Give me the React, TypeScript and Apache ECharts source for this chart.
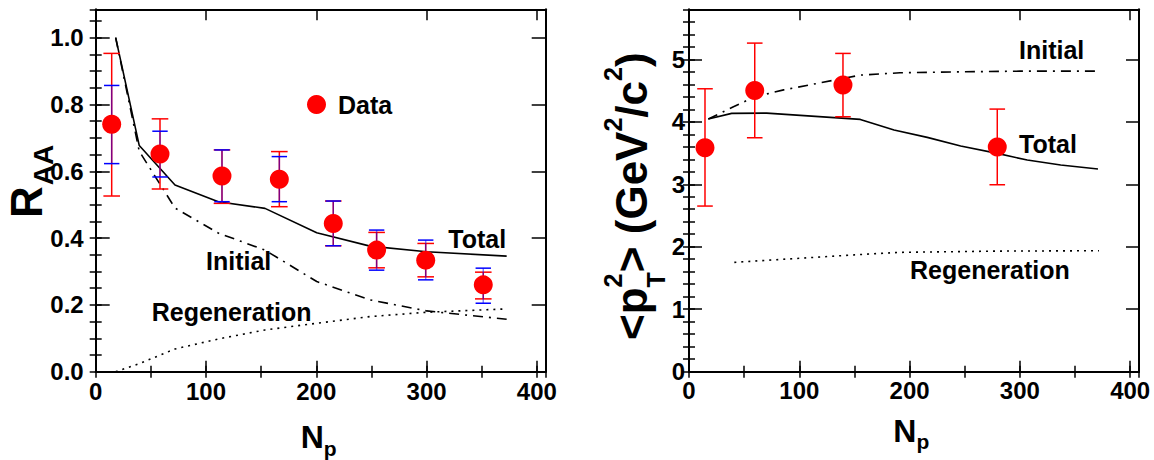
import React, { useEffect, useRef } from 'react';
import * as echarts from 'echarts';

const FONT = '"Liberation Sans", Arial, Helvetica, sans-serif';

// ---------- Left panel: R_AA vs N_p ----------
const raaNp = [14.5, 58.3, 114.5, 166.5, 215.4, 254.7, 299.2, 351.4];
const raaVal = [0.741, 0.652, 0.586, 0.576, 0.444, 0.364, 0.334, 0.26];
const raaRedLo = [0.526, 0.547, 0.504, 0.494, 0.377, 0.311, 0.284, 0.218];
const raaRedHi = [0.953, 0.757, 0.664, 0.659, 0.511, 0.417, 0.384, 0.298];
const raaBlueLo = [0.623, 0.583, 0.509, 0.509, 0.377, 0.304, 0.275, 0.205];
const raaBlueHi = [0.857, 0.72, 0.664, 0.644, 0.511, 0.424, 0.394, 0.31];

const modelNp = [18.1, 39.5, 71.9, 111.2, 153.5, 200.4, 248.7, 300, 372.6];
const raaTotal = [1.0, 0.677, 0.559, 0.509, 0.489, 0.416, 0.376, 0.359, 0.346];
const raaInitial = [1.0, 0.66, 0.49, 0.415, 0.364, 0.27, 0.215, 0.182, 0.157];
const raaRegen = [0.0, 0.024, 0.068, 0.098, 0.125, 0.145, 0.165, 0.178, 0.188];

// ---------- Right panel: <pT^2> vs N_p ----------
const ptNp = [14.5, 59.6, 139.6, 279.5];
const ptVal = [3.584, 4.502, 4.587, 3.595];
const ptLo = [2.651, 3.744, 4.08, 2.992];
const ptHi = [4.528, 5.259, 5.094, 4.203];

const ptTotalNp = [17.5, 38.7, 70.4, 155.3, 185.9, 216, 246.3, 279.5, 306.7, 337, 370.8];
const ptTotal = [4.043, 4.134, 4.139, 4.038, 3.867, 3.75, 3.611, 3.494, 3.387, 3.307, 3.243];
const ptInitialNp = [17.5, 40.3, 59.6, 85.8, 155.3, 191.3, 250, 300, 370.8];
const ptInitial = [4.043, 4.24, 4.4, 4.51, 4.747, 4.784, 4.8, 4.81, 4.811];
const ptRegenNp = [41.1, 100, 150, 191.3, 280, 371.7];
const ptRegen = [1.75, 1.815, 1.87, 1.91, 1.93, 1.936];

const isMult = (v: number, s: number) => Math.abs(v / s - Math.round(v / s)) < 1e-6;

function makeAxes(dim: 'x' | 'y', gridIndex: number, max: number, major: number, minor: number,
  majorLen: number, minorLen: number, labelMargin: number, fmt: (v: number) => string) {
  const sides = dim === 'x' ? ['bottom', 'top'] : ['left', 'right'];
  const base = { type: 'value', gridIndex, min: 0, max, splitLine: { show: false } };
  const line = { show: true, onZero: false, lineStyle: { color: '#000', width: 2 } };
  const tMaj = { show: true, inside: true, length: majorLen, lineStyle: { color: '#000', width: 1.5 } };
  const tMin = { show: true, inside: true, length: minorLen, lineStyle: { color: '#000', width: 1.5 } };
  return [
    {
      ...base, position: sides[0], interval: major, axisLine: line, axisTick: tMaj,
      axisLabel: {
        show: true, margin: labelMargin, color: '#000', fontSize: 24, fontWeight: 'bold', fontFamily: FONT,
        showMinLabel: true, showMaxLabel: true, formatter: fmt,
      },
    },
    { ...base, position: sides[0], interval: minor, axisLine: { show: false }, axisTick: tMin, axisLabel: { show: false } },
    { ...base, position: sides[1], interval: major, axisLine: line, axisTick: tMaj, axisLabel: { show: false } },
    { ...base, position: sides[1], interval: minor, axisLine: { show: false }, axisTick: tMin, axisLabel: { show: false } },
  ];
}

function errBar(api: any, color: string, halfCap: number, vertOpacity: number) {
  const x = api.value(0);
  const pLo = api.coord([x, api.value(2)]);
  const pHi = api.coord([x, api.value(3)]);
  const st = { stroke: color, lineWidth: 1.5 };
  return {
    type: 'group',
    children: [
      { type: 'line', shape: { x1: pLo[0], y1: pLo[1], x2: pHi[0], y2: pHi[1] }, style: { ...st, opacity: vertOpacity } },
      { type: 'line', shape: { x1: pLo[0] - halfCap, y1: pLo[1], x2: pLo[0] + halfCap, y2: pLo[1] }, style: st },
      { type: 'line', shape: { x1: pHi[0] - halfCap, y1: pHi[1], x2: pHi[0] + halfCap, y2: pHi[1] }, style: st },
    ],
  };
}

const zip = (a: number[], b: number[]) => a.map((v, i) => [v, b[i]]);

export default function App() {
  const ref = useRef<HTMLDivElement>(null);
  useEffect(() => {
    if (!ref.current) return;
    const ctx = document.createElement('canvas').getContext('2d')!;
    const tw = (t: string, s: number) => { ctx.font = `bold ${s}px "Liberation Sans"`; return ctx.measureText(t).width; };
    const T = (text: string, x: number, baseline: number, size: number) => ({
      type: 'text', x, y: baseline - 0.3465 * size, silent: true,
      style: {
        text, fontSize: size, fontWeight: 'bold', fontFamily: FONT, fill: '#000',
        align: 'left', verticalAlign: 'middle', textAlign: 'left', textVerticalAlign: 'middle',
      },
    });

    // R_AA title (rotated)
    const rW = tw('R', 44);
    const raaTitle = {
      type: 'group', x: 41.7, y: 218, rotation: Math.PI / 2, silent: true,
      children: [T('R', 0, 0, 44), T('AA', rW + 1, 11.6, 28)],
    };
    // <pT^2> (GeV^2/c^2) title (rotated)
    const M = 44, S = 25, SUP = -25.5, SUB = 18;
    const kids: any[] = [];
    let cx = 0;
    const add = (t: string, size: number, base: number) => { kids.push(T(t, cx, base, size)); cx += tw(t, size); };
    add('<', M, 0);
    add('p', M, 0);
    const sx = cx;
    kids.push(T('2', sx, SUP, S));
    kids.push(T('T', sx, SUB, S));
    cx = sx + Math.max(tw('2', S), tw('T', S));
    add('> (GeV', M, 0);
    add('2', S, SUP);
    add('/c', M, 0);
    add('2', S, SUP);
    add(')', M, 0);
    const ptTitle = { type: 'group', x: 647, y: 340, rotation: Math.PI / 2, silent: true, children: kids };

    const npTitle = (x: number, base: number) => [T('N', x, base, 32), T('p', x + tw('N', 32), base + 7, 21)];

    const chart = echarts.init(ref.current, null, { renderer: 'svg' });
    const lineBase = { type: 'line', showSymbol: false, symbol: 'none', silent: true, z: 3, clip: false };
    const dashDot = [10, 6, 2, 6];
    const dotted = [2, 5];
    chart.setOption({
      animation: false,
      textStyle: { fontFamily: FONT },
      grid: [
        { left: 95.7, top: 9.3, width: 450, height: 362.4 },
        { left: 689, top: 9.3, width: 450, height: 362.4 },
      ],
      xAxis: [
        ...makeAxes('x', 0, 408, 100, 50, 11, 6, 8, (v) => (isMult(v, 100) ? String(v) : '')),
        ...makeAxes('x', 1, 408, 100, 50, 11, 6, 7, (v) => (isMult(v, 100) ? String(v) : '')),
      ],
      yAxis: [
        ...makeAxes('y', 0, 1.085, 0.2, 0.05, 14, 6, 12, (v) => (isMult(v, 0.2) ? v.toFixed(1) : '')),
        ...makeAxes('y', 1, 5.8, 1, 0.2, 13, 6, 4, (v) => (isMult(v, 1) ? String(Math.round(v)) : '')),
      ],
      legend: {
        left: 302, top: 87, itemWidth: 19, itemHeight: 19, selectedMode: false,
        data: [{ name: 'Data', icon: 'circle', itemStyle: { color: '#ff0000', opacity: 1 } }],
        textStyle: { fontSize: 25, fontWeight: 'bold', fontFamily: FONT, color: '#000', padding: [0, 0, 0, 7] },
      },
      series: [
        { ...lineBase, name: 'Total', xAxisIndex: 0, yAxisIndex: 0, data: zip(modelNp, raaTotal), lineStyle: { color: '#000', width: 1.6, type: 'solid' } },
        { ...lineBase, name: 'Initial', xAxisIndex: 0, yAxisIndex: 0, data: zip(modelNp, raaInitial), lineStyle: { color: '#000', width: 1.6, type: dashDot } },
        { ...lineBase, name: 'Regeneration', xAxisIndex: 0, yAxisIndex: 0, data: zip(modelNp, raaRegen), lineStyle: { color: '#000', width: 1.6, type: dotted } },
        {
          type: 'custom', name: 'errRed', xAxisIndex: 0, yAxisIndex: 0, silent: true, z: 4, clip: false,
          encode: { x: 0, y: [1, 2, 3] },
          data: raaNp.map((n, i) => [n, raaVal[i], raaRedLo[i], raaRedHi[i]]),
          renderItem: (_p: any, api: any) => errBar(api, '#ff0000', 8.3, 1),
        },
        {
          type: 'custom', name: 'errBlue', xAxisIndex: 0, yAxisIndex: 0, silent: true, z: 4, clip: false,
          encode: { x: 0, y: [1, 2, 3] },
          data: raaNp.map((n, i) => [n, raaVal[i], raaBlueLo[i], raaBlueHi[i]]),
          renderItem: (_p: any, api: any) => errBar(api, '#0000ff', 7.7, 0.5),
        },
        {
          type: 'scatter', name: 'Data', xAxisIndex: 0, yAxisIndex: 0, symbol: 'circle', symbolSize: 19, z: 6, silent: true,
          itemStyle: { color: '#ff0000', opacity: 1 }, data: zip(raaNp, raaVal),
        },
        { ...lineBase, name: 'Total2', xAxisIndex: 4, yAxisIndex: 4, data: zip(ptTotalNp, ptTotal), lineStyle: { color: '#000', width: 1.6, type: 'solid' } },
        { ...lineBase, name: 'Initial2', xAxisIndex: 4, yAxisIndex: 4, data: zip(ptInitialNp, ptInitial), lineStyle: { color: '#000', width: 1.6, type: dashDot } },
        { ...lineBase, name: 'Regeneration2', xAxisIndex: 4, yAxisIndex: 4, data: zip(ptRegenNp, ptRegen), lineStyle: { color: '#000', width: 1.6, type: dotted } },
        {
          type: 'custom', name: 'errPt', xAxisIndex: 4, yAxisIndex: 4, silent: true, z: 4, clip: false,
          encode: { x: 0, y: [1, 2, 3] },
          data: ptNp.map((n, i) => [n, ptVal[i], ptLo[i], ptHi[i]]),
          renderItem: (_p: any, api: any) => errBar(api, '#ff0000', 7.8, 1),
        },
        {
          type: 'scatter', name: 'ptData', xAxisIndex: 4, yAxisIndex: 4, symbol: 'circle', symbolSize: 19, z: 6, silent: true,
          itemStyle: { color: '#ff0000', opacity: 1 }, data: zip(ptNp, ptVal),
        },
      ],
      graphic: [
        T('Total', 448.3, 247.3, 25),
        T('Initial', 206, 270, 25),
        T('Regeneration', 151.7, 320.5, 25),
        T('Initial', 1019, 59, 25),
        T('Total', 1019, 153, 25),
        T('Regeneration', 910, 278.3, 25),
        ...npTitle(300.7, 448.3),
        ...npTitle(893.3, 442),
        raaTitle,
        ptTitle,
      ],
    });
    return () => chart.dispose();
  }, []);
  return <div ref={ref} style={{ position: 'fixed', left: 0, top: 0, width: 1154, height: 460, background: '#fff' }} />;
}
